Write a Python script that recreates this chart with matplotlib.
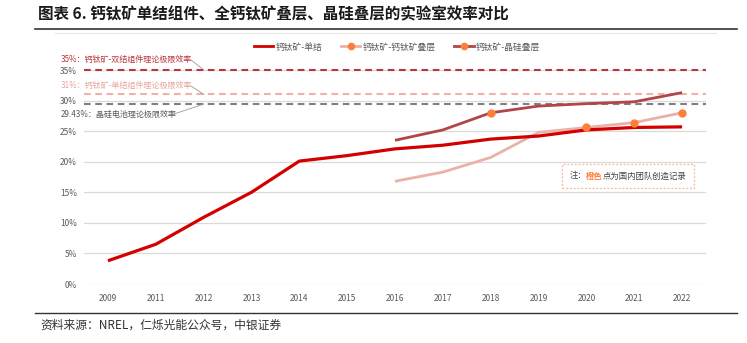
import matplotlib
matplotlib.use("Agg")
import matplotlib.pyplot as plt
from matplotlib.lines import Line2D
from matplotlib.offsetbox import TextArea, HPacker, AnchoredOffsetbox

plt.rcParams['font.family'] = ['Noto Sans CJK SC', 'DejaVu Sans']

# ---- data ----
years = ['2009', '2011', '2012', '2013', '2014', '2015', '2016',
         '2017', '2018', '2019', '2020', '2021', '2022']
single = [3.8, 6.5, 10.9, 15.0, 20.1, 21.0, 22.1, 22.7, 23.7, 24.2, 25.2, 25.6, 25.7]
pero_pero = [None, None, None, None, None, None, 16.8, 18.3, 20.7, 24.8, 25.6, 26.4, 28.0]
pero_si = [None, None, None, None, None, None, 23.5, 25.2, 28.0, 29.1, 29.5, 29.8, 31.3]
pero_pero_marks = ['2020', '2021', '2022']
pero_si_marks = ['2018']
series_names = ['钙钛矿-单结', '钙钛矿-钙钛矿叠层', '钙钛矿-晶硅叠层']
limit_vals = [35.0, 31.0, 29.43]
limit_labels = ['35%：钙钛矿-双结组件理论极限效率',
                '31%：钙钛矿-单结组件理论极限效率',
                '29.43%：晶硅电池理论极限效率']
yticks = [0, 5, 10, 15, 20, 25, 30, 35]
title = '图表 6. 钙钛矿单结组件、全钙钛矿叠层、晶硅叠层的实验室效率对比'
source = '资料来源：NREL，仁烁光能公众号，中银证券'

# ---- styles ----
c_single = '#D40000'
c_pp = '#E8B2A8'
c_ps = '#B04646'
c_mark = '#FF7F3A'
limit_colors = ['#B8373C', '#F2B0A8', '#808080']
label_colors = ['#B8373C', '#E9A59C', '#595959']
grid_c = '#DADADA'
tick_c = '#595959'

W, H = 747, 343
fig = plt.figure(figsize=(W / 100, H / 100), dpi=100)
ax = fig.add_axes([84 / W, 1 - 284 / H, (706 - 84) / W, (284 - 70) / H])

x = list(range(len(years)))

for v in yticks:
    ax.axhline(v, color=grid_c, lw=0.9, zorder=1)

for v, c in zip(limit_vals, limit_colors):
    ax.axhline(v, color=c, lw=1.5, dashes=(3.2, 2.2), zorder=2, clip_on=False)

def pts(vals):
    xs = [i for i, v in enumerate(vals) if v is not None]
    ys = [v for v in vals if v is not None]
    return xs, ys

xs, ys = pts(pero_pero)
ax.plot(xs, ys, color=c_pp, lw=2.0, zorder=3, solid_capstyle='butt')
xs, ys = pts(pero_si)
ax.plot(xs, ys, color=c_ps, lw=2.0, zorder=4, solid_capstyle='butt')
ax.plot(x, single, color=c_single, lw=2.3, zorder=5, solid_capstyle='butt')

for yr in pero_pero_marks:
    i = years.index(yr)
    ax.plot([i], [pero_pero[i]], 'o', ms=5, color=c_mark, mec=c_mark, zorder=6)
for yr in pero_si_marks:
    i = years.index(yr)
    ax.plot([i], [pero_si[i]], 'o', ms=5, color=c_mark, mec=c_mark, zorder=6)

ax.set_xlim(-0.5, len(years) - 0.5)
ax.set_ylim(0, 35)
ax.set_xticks(x)
ax.set_xticklabels(years)
ax.set_yticks(yticks)
ax.set_yticklabels([f'{v}%' for v in yticks])
ax.tick_params(length=0, labelsize=6, colors=tick_c, pad=5)
ax.tick_params(axis='x', pad=7)
for s in ax.spines.values():
    s.set_visible(False)

# limit annotations with leader lines (figure pixel coordinates)
def fp(px, py):
    return (px / W, 1 - py / H)

label_pos = [(61, 59.5), (61, 85.5), (61, 114)]
leader = [((191, 60), (204, 70)), ((191, 86), (204, 94.5)), ((174, 114), (204, 104))]
for (tx, ty), lab, c, (p0, p1), lc in zip(label_pos, limit_labels, label_colors,
                                          leader, limit_colors):
    fig.text(*fp(tx, ty), lab, fontsize=5.8, color=c, ha='left', va='center')
    fig.add_artist(Line2D([p0[0] / W, p1[0] / W], [1 - p0[1] / H, 1 - p1[1] / H],
                          color='#9A9A9A', lw=0.6, transform=fig.transFigure))

# legend
handles = [
    Line2D([], [], color=c_single, lw=2.0),
    Line2D([], [], color=c_pp, lw=2.0, marker='o', ms=4.5, mfc=c_mark, mec=c_mark),
    Line2D([], [], color=c_ps, lw=2.0, marker='o', ms=4.5, mfc=c_mark, mec=c_mark),
]
leg = fig.legend(handles, series_names, loc='center', bbox_to_anchor=(397 / W, 1 - 47 / H),
                 ncol=3, frameon=False, fontsize=6.3, handlelength=2.2,
                 handletextpad=0.2, columnspacing=2.2, numpoints=1)
for t in leg.get_texts():
    t.set_color(tick_c)

# note box
parts = [TextArea('注：', textprops=dict(fontsize=6, color='#404040')),
         TextArea('橙色', textprops=dict(fontsize=6, color=c_mark, fontweight='bold')),
         TextArea('点为国内团队创造记录', textprops=dict(fontsize=6, color='#404040'))]
box = HPacker(children=parts, align='center', pad=0, sep=0)
anch = AnchoredOffsetbox(loc='center', child=box, pad=0.55, borderpad=0,
                         frameon=True, bbox_to_anchor=fp(628, 176),
                         bbox_transform=fig.transFigure)
anch.patch.set_edgecolor('#F7B994')
anch.patch.set_linestyle((0, (1.5, 1.5)))
anch.patch.set_linewidth(0.9)
anch.patch.set_boxstyle('square', pad=0)
fig.add_artist(anch)

# title, rules and source
fig.text(*fp(38, 14), title, fontsize=11.2, fontweight='bold', color='#1A1A1A',
         ha='left', va='center')
fig.add_artist(Line2D([35 / W, 737 / W], [1 - 28.5 / H] * 2, color='#333333', lw=1.2,
                      transform=fig.transFigure))
fig.add_artist(Line2D([55 / W, 716 / W], [1 - 32.5 / H] * 2, color='#E6E6E6', lw=0.8,
                      transform=fig.transFigure))
fig.add_artist(Line2D([35 / W, 737 / W], [1 - 313 / H] * 2, color='#333333', lw=1.0,
                      transform=fig.transFigure))
fig.text(*fp(40, 325), source, fontsize=8.5, color='#333333', ha='left', va='center',
         style='italic')

fig.savefig('out.png', dpi=100)
